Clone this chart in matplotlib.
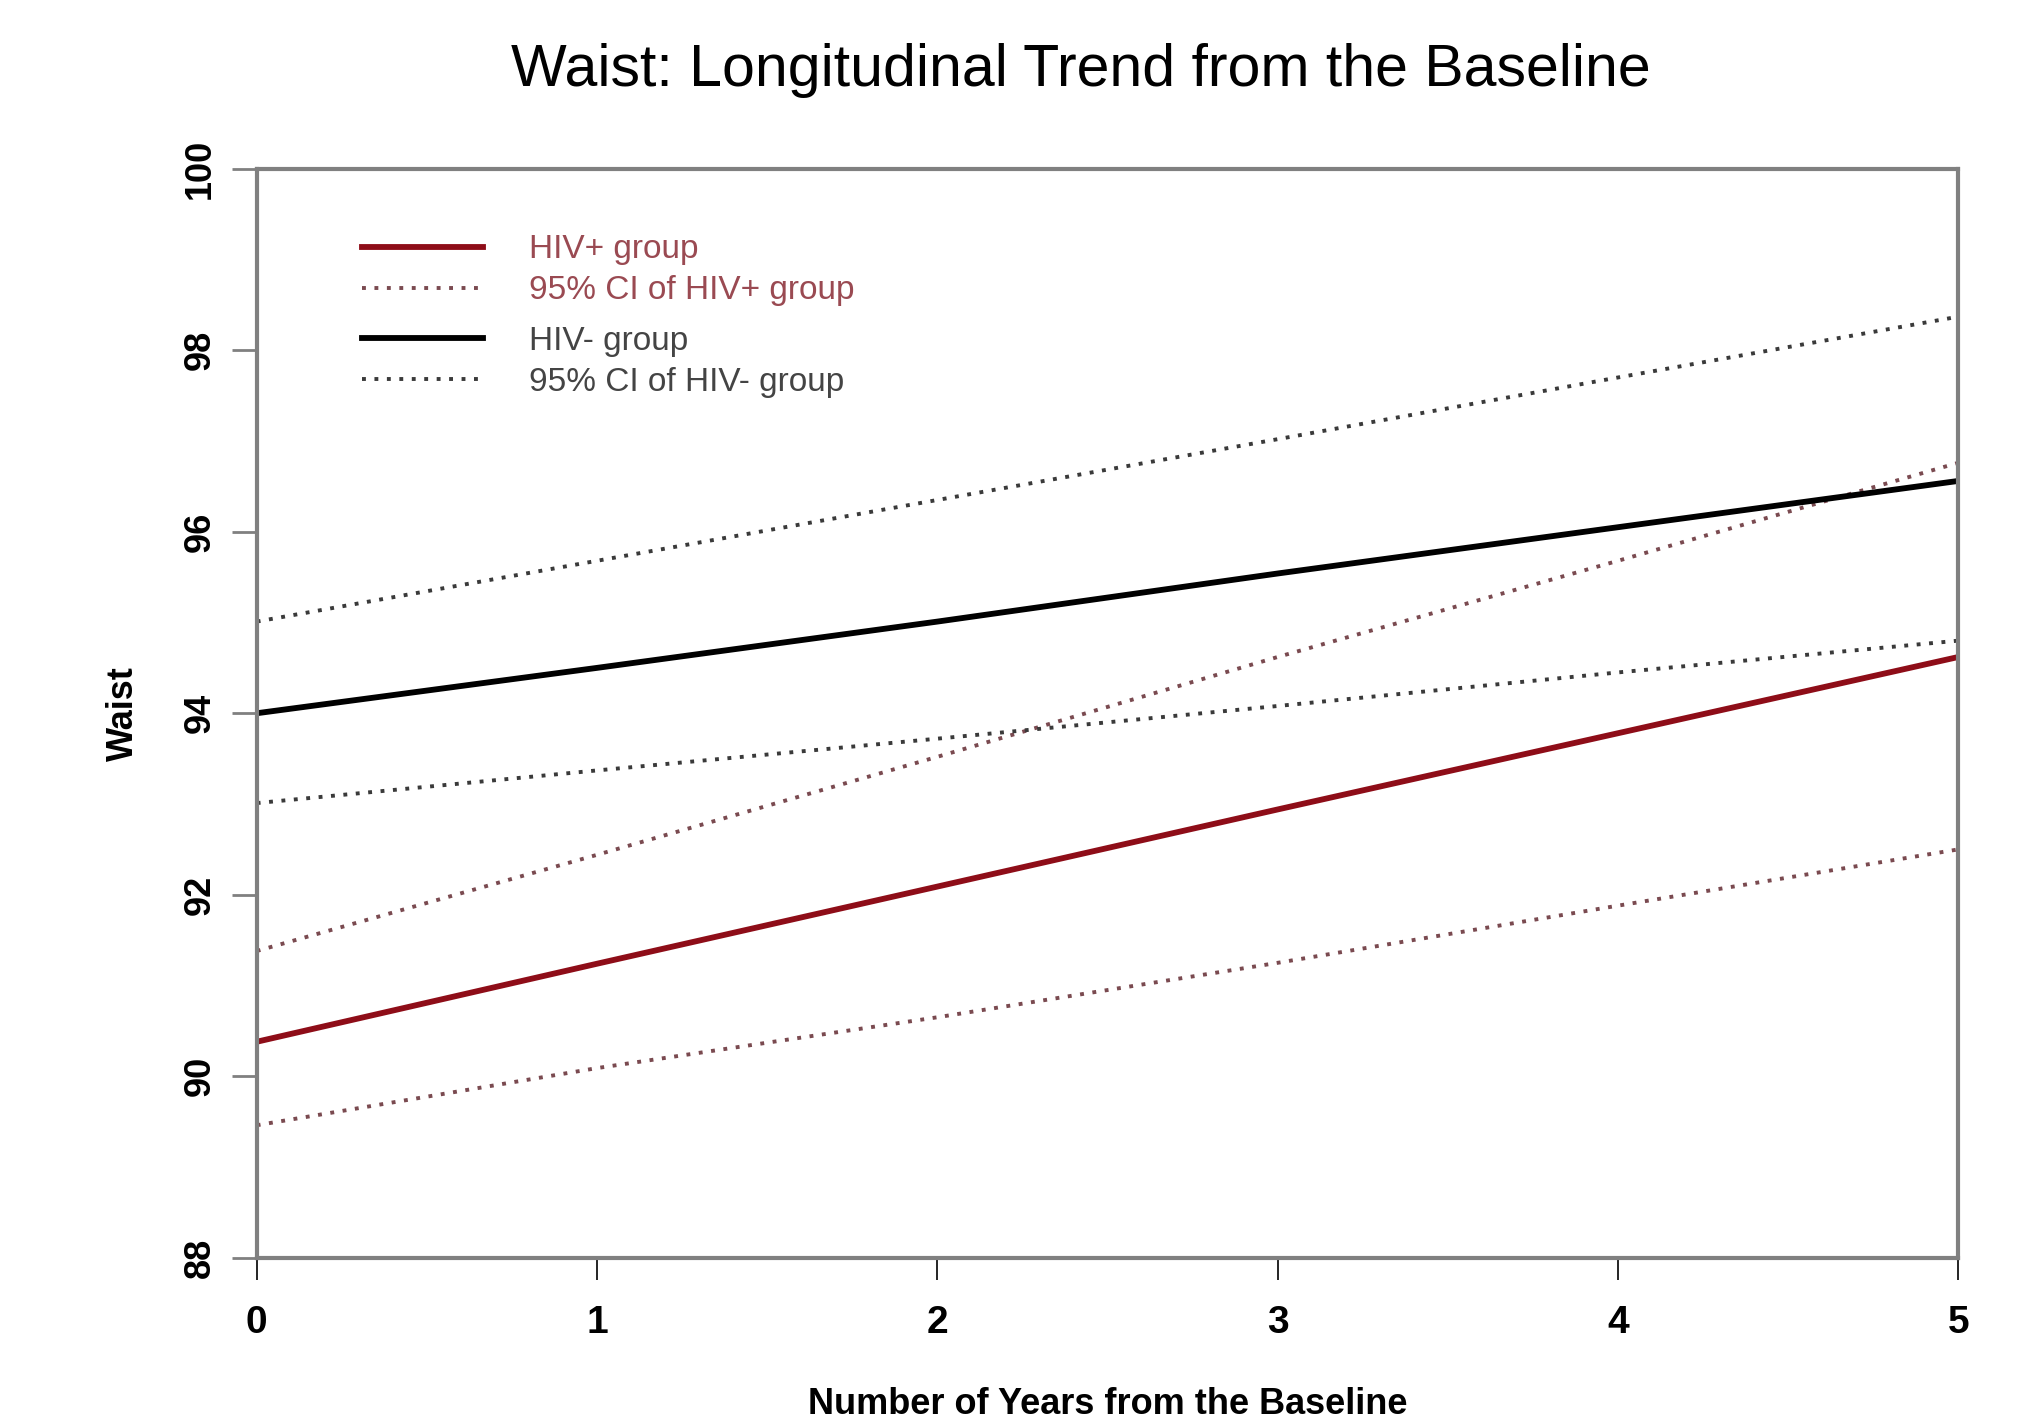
import matplotlib
matplotlib.use('Agg')
import matplotlib.pyplot as plt

# years from baseline
years = [0, 1, 2, 3, 4, 5]

# estimates
hiv_pos = [90.38, 91.24, 92.09, 92.94, 93.78, 94.62]
hiv_pos_lo = [89.46, 90.09, 90.65, 91.25, 91.88, 92.50]
hiv_pos_hi = [91.38, 92.44, 93.52, 94.62, 95.68, 96.76]

hiv_neg = [94.00, 94.50, 95.01, 95.54, 96.05, 96.56]
hiv_neg_lo = [93.01, 93.37, 93.72, 94.08, 94.45, 94.80]
hiv_neg_hi = [95.01, 95.68, 96.35, 97.02, 97.70, 98.37]

xticks = [0, 1, 2, 3, 4, 5]
yticks = [88, 90, 92, 94, 96, 98, 100]

red = '#8e0d18'
red_dot = '#7a4a50'
blk_dot = '#3a3a3a'
frame_col = '#808080'
narrow = ['Liberation Sans Narrow', 'Liberation Sans', 'DejaVu Sans']
plain = ['Liberation Sans', 'DejaVu Sans']

fig = plt.figure(figsize=(20.21, 14.18), dpi=100)
ax = fig.add_axes([0.127, 0.113, 0.842, 0.768])

dot = (0, (1, 2.2))
l1, = ax.plot(years, hiv_pos, color=red, lw=4.2, label='HIV+ group')
l2, = ax.plot(years, hiv_pos_lo, color=red_dot, lw=2.8, ls=dot, label='95% CI of HIV+ group')
ax.plot(years, hiv_pos_hi, color=red_dot, lw=2.8, ls=dot)
l3, = ax.plot(years, hiv_neg, color='black', lw=4.2, label='HIV- group')
l4, = ax.plot(years, hiv_neg_lo, color=blk_dot, lw=2.8, ls=dot, label='95% CI of HIV- group')
ax.plot(years, hiv_neg_hi, color=blk_dot, lw=2.8, ls=dot)

ax.set_xlim(0, 5)
ax.set_ylim(88, 100)
ax.set_xticks(xticks)
ax.set_yticks(yticks)
ax.set_xticklabels([str(v) for v in xticks], family=narrow, fontweight='bold', fontsize=28)
ax.set_yticklabels([str(v) for v in yticks], family=narrow, fontweight='bold', fontsize=26,
                   rotation=90, va='center')
ax.tick_params(axis='x', length=16, width=1.2, color='black', pad=18)
ax.tick_params(axis='y', length=18, width=2, color=frame_col, pad=10)

for s in ax.spines.values():
    s.set_color(frame_col)
    s.set_linewidth(3)

ax.set_xlabel('Number of Years from the Baseline', family=narrow, fontweight='bold',
              fontsize=26, labelpad=33)
ax.set_ylabel('Waist', family=narrow, fontweight='bold', fontsize=26, labelpad=30)

fig.text(0.535, 0.950, 'Waist: Longitudinal Trend from the Baseline',
         ha='center', va='center', fontsize=42.5, family=plain)

leg_kw = dict(loc='upper left', frameon=False, prop={'family': plain, 'size': 24},
              handlelength=3.65, handletextpad=1.36, labelspacing=0.3, borderpad=0)
leg1 = ax.legend(handles=[l1, l2], bbox_to_anchor=(0.052, 0.955), **leg_kw)
for t in leg1.get_texts():
    t.set_color('#9a4a52')
ax.add_artist(leg1)
leg2 = ax.legend(handles=[l3, l4], bbox_to_anchor=(0.052, 0.871), **leg_kw)
for t in leg2.get_texts():
    t.set_color('#444444')

fig.savefig('out.png', dpi=100)
